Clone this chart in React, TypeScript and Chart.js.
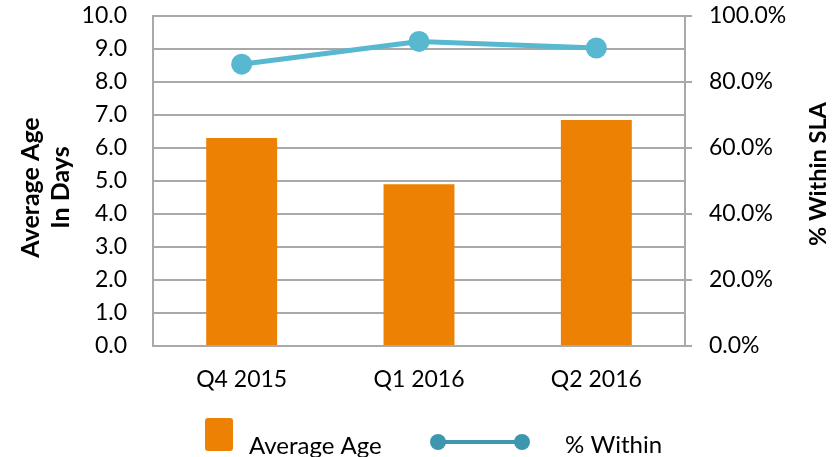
import React, { useEffect, useRef } from "react";
import { Chart, registerables } from "chart.js";

Chart.register(...registerables);

const categories = ["Q4 2015", "Q1 2016", "Q2 2016"];
const averageAge = [6.3, 4.9, 6.85];
const pctWithin = [85.4, 92.3, 90.3];
const leftTitleLines = ["Average Age", "In Days"];
const rightTitle = "% Within SLA";
const legendLabels = ["Average Age", "% Within"];

const FONT = "Lato, 'Open Sans', sans-serif";
const BAR_COLOR = "#EC8104";
const LINE_COLOR = "#57B8D0";
const LEGEND_LINE_COLOR = "#3D98AF";
const GRID_COLOR = "#A9A9A9";

const overlay = {
  id: "overlay",
  afterDraw(chart: any) {
    const ctx = chart.ctx as CanvasRenderingContext2D;
    ctx.save();
    ctx.fillStyle = "#000";
    ctx.font = `bold 25px ${FONT}`;
    ctx.textAlign = "center";
    ctx.textBaseline = "middle";
    const leftX = [31, 61];
    leftTitleLines.forEach((t, i) => {
      ctx.save();
      ctx.translate(leftX[i], 187.5);
      ctx.rotate(-Math.PI / 2);
      ctx.fillText(t, 0, 0);
      ctx.restore();
    });
    ctx.font = `bold 23.5px ${FONT}`;
    ctx.save();
    ctx.translate(818, 174);
    ctx.rotate(-Math.PI / 2);
    ctx.fillText(rightTitle, 0, 0);
    ctx.restore();

    // legend
    ctx.fillStyle = BAR_COLOR;
    ctx.beginPath();
    (ctx as any).roundRect(205, 418, 28, 33, 3);
    ctx.fill();
    ctx.fillStyle = "#000";
    ctx.font = `24px ${FONT}`;
    ctx.textAlign = "left";
    ctx.textBaseline = "alphabetic";
    ctx.fillText(legendLabels[0], 249, 454);
    ctx.fillText(legendLabels[1], 565, 453);

    ctx.strokeStyle = LEGEND_LINE_COLOR;
    ctx.lineWidth = 4;
    ctx.beginPath();
    ctx.moveTo(438, 442);
    ctx.lineTo(522, 442);
    ctx.stroke();
    ctx.fillStyle = LEGEND_LINE_COLOR;
    [438, 522].forEach((x) => {
      ctx.beginPath();
      ctx.arc(x, 442, 8, 0, Math.PI * 2);
      ctx.fill();
    });
    ctx.restore();
  },
};

export default function App() {
  const ref = useRef<HTMLCanvasElement>(null);
  useEffect(() => {
    if (!ref.current) return;
    const chart = new Chart(ref.current, {
      type: "bar",
      data: {
        labels: categories,
        datasets: [
          {
            type: "line",
            label: legendLabels[1],
            data: pctWithin,
            yAxisID: "y1",
            borderColor: LINE_COLOR,
            backgroundColor: LINE_COLOR,
            borderWidth: 5,
            pointRadius: 10.5,
            pointBackgroundColor: LINE_COLOR,
            pointBorderWidth: 0,
            tension: 0,
            order: 0,
          } as any,
          {
            type: "bar",
            label: legendLabels[0],
            data: averageAge,
            yAxisID: "y",
            backgroundColor: BAR_COLOR,
            barPercentage: 0.4,
            categoryPercentage: 1,
            order: 1,
          },
        ],
      },
      options: {
        responsive: false,
        animation: false,
        layout: { padding: { top: 16, left: 0, right: 0, bottom: 0 } },
        plugins: { legend: { display: false }, tooltip: { enabled: false } },
        scales: {
          x: {
            grid: { display: false, drawTicks: false },
            border: { display: true, color: GRID_COLOR, width: 2 },
            ticks: { color: "#000", font: { family: FONT, size: 23 }, padding: 20 },
            afterFit: (s: any) => {
              s.height = 111;
              s.paddingLeft = 0;
              s.paddingRight = 0;
            },
          },
          y: {
            position: "left",
            min: 0,
            max: 10,
            ticks: {
              stepSize: 1,
              color: "#000",
              font: { family: FONT, size: 23 },
              padding: 26,
              callback: (v: any) => Number(v).toFixed(1),
            },
            grid: { color: GRID_COLOR, lineWidth: 2, drawTicks: false },
            border: { display: true, color: GRID_COLOR, width: 2 },
            afterFit: (s: any) => {
              s.width = 153;
              s.paddingTop = 0;
              s.paddingBottom = 0;
            },
          },
          y1: {
            position: "right",
            min: 0,
            max: 100,
            ticks: {
              stepSize: 20,
              color: "#000",
              font: { family: FONT, size: 23 },
              padding: 17,
              callback: (v: any) => Number(v).toFixed(1) + "%",
            },
            grid: { drawOnChartArea: false, color: GRID_COLOR, lineWidth: 2, tickLength: 7 },
            border: { display: true, color: GRID_COLOR, width: 2 },
            afterFit: (s: any) => {
              s.width = 153;
              s.paddingTop = 0;
              s.paddingBottom = 0;
            },
          },
        },
      },
      plugins: [overlay],
    });
    return () => chart.destroy();
  }, []);
  return (
    <canvas
      ref={ref}
      width={838}
      height={457}
      style={{ position: "absolute", left: 0, top: 0, display: "block" }}
    />
  );
}
